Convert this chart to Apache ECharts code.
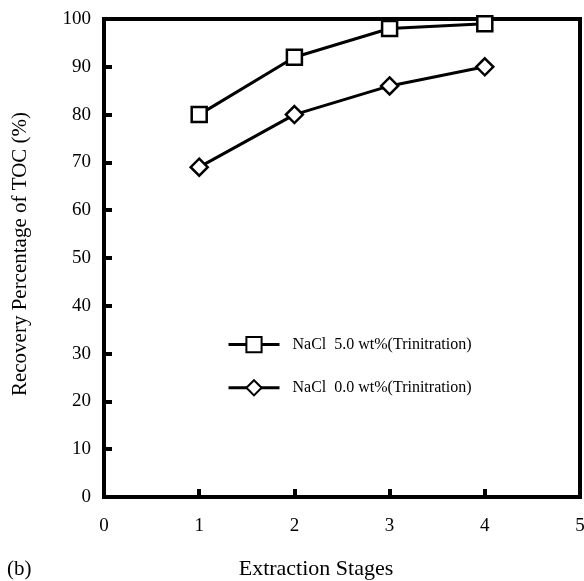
<!DOCTYPE html>
<html><head><meta charset="utf-8">
<script src="https://cdn.jsdelivr.net/npm/echarts@6/dist/echarts.min.js"></script>
<style>html,body{margin:0;padding:0;background:#fff}#c{width:584px;height:581px}</style>
</head><body><div id="c"></div>
<script>
const stages = [1, 2, 3, 4];
const nacl5 = [80, 92, 98, 99];
const nacl0 = [69, 80, 86, 90];
const seriesNames = ['NaCl  5.0 wt%(Trinitration)', 'NaCl  0.0 wt%(Trinitration)'];
const font = 'Liberation Serif, Times New Roman, serif';
const chart = echarts.init(document.getElementById('c'));
chart.setOption({
  animation: false,
  backgroundColor: '#fff',
  grid: {left: 104, right: 4, top: 19, bottom: 84, show: true, borderColor: '#000', borderWidth: 4,
         containLabel: false, outerBoundsMode: 'none'},
  xAxis: {
    type: 'value', min: 0, max: 5, interval: 1,
    axisLine: {show: true, lineStyle: {color: '#000', width: 4}},
    axisTick: {show: true, inside: true, length: 8, lineStyle: {color: '#000', width: 4}},
    axisLabel: {fontFamily: font, fontSize: 19, color: '#000', margin: 20},
    splitLine: {show: false}
  },
  yAxis: {
    type: 'value', min: 0, max: 100, interval: 10,
    axisLine: {show: true, lineStyle: {color: '#000', width: 4}},
    axisTick: {show: true, inside: true, length: 8, lineStyle: {color: '#000', width: 4}},
    axisLabel: {fontFamily: font, fontSize: 19, color: '#000', margin: 13},
    splitLine: {show: false}
  },
  legend: {
    orient: 'vertical', left: 222, top: 331, itemGap: 26, itemWidth: 51, itemHeight: 19,
    textStyle: {fontFamily: font, fontSize: 16, color: '#000', padding: [0, 0, 0, 8]},
    lineStyle: {width: 3},
    data: seriesNames
  },
  graphic: [
    {type: 'text', x: 7, y: 569, style: {text: '(b)', font: '21px ' + font, fill: '#000', verticalAlign: 'middle'}},
    {type: 'text', x: 316, y: 569, style: {text: 'Extraction Stages', font: '22px ' + font, fill: '#000', align: 'center', verticalAlign: 'middle'}},
    {type: 'text', x: 20, y: 254, rotation: Math.PI / 2, style: {text: 'Recovery Percentage of TOC (%)', font: '21px ' + font, fill: '#000', align: 'center', verticalAlign: 'middle'}}
  ],
  series: [
    {name: seriesNames[0], type: 'line', data: stages.map((s, i) => [s, nacl5[i]]),
     symbol: 'rect', symbolSize: 15, lineStyle: {color: '#000', width: 3},
     itemStyle: {color: '#fff', borderColor: '#000', borderWidth: 2.5}},
    {name: seriesNames[1], type: 'line', data: stages.map((s, i) => [s, nacl0[i]]),
     symbol: 'diamond', symbolSize: 17, lineStyle: {color: '#000', width: 3},
     itemStyle: {color: '#fff', borderColor: '#000', borderWidth: 2.5}}
  ]
});
</script></body></html>
